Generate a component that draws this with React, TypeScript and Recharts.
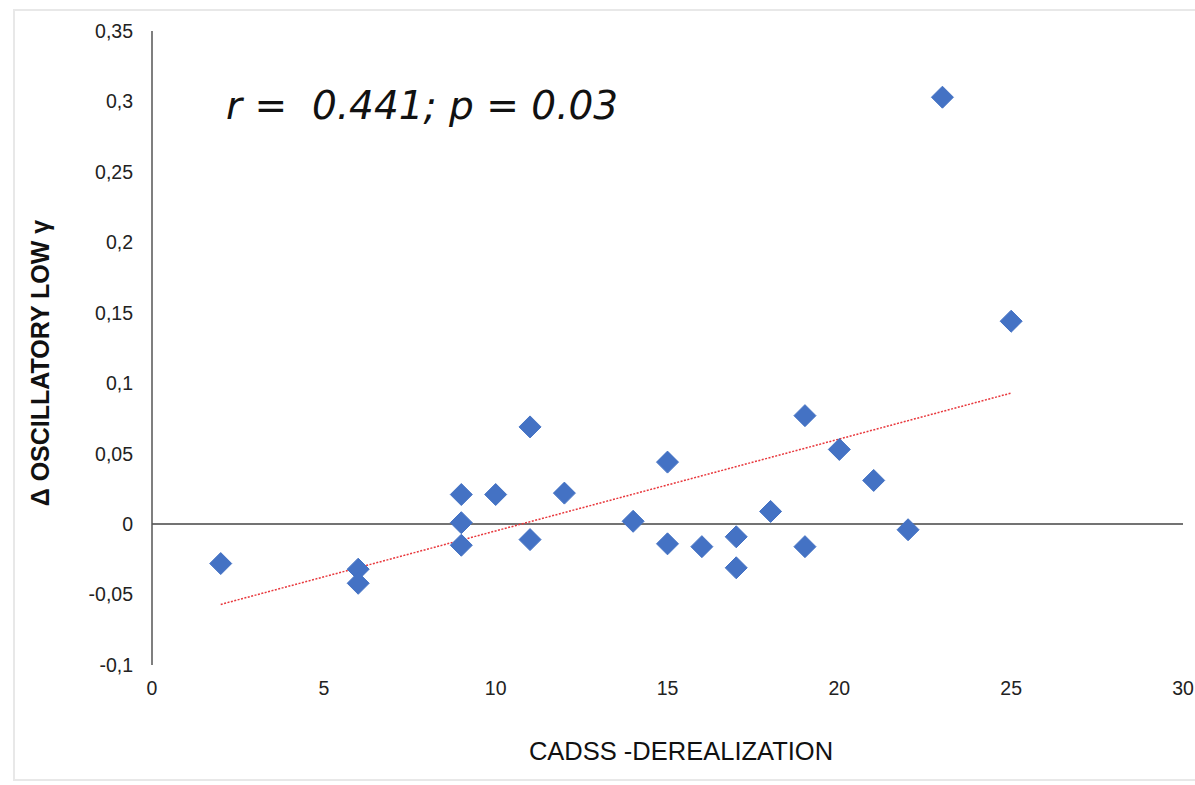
import {
  Label,
  ReferenceLine,
  Scatter,
  ScatterChart,
  XAxis,
  YAxis,
} from "recharts";

// CADSS derealization score per subject
const cadss = [2, 6, 6, 9, 9, 9, 10, 11, 11, 12, 14, 15, 15, 16, 17, 17, 18, 19, 19, 20, 21, 22, 23, 25];
// change in oscillatory low gamma
const deltaLowGamma = [
  -0.028, -0.032, -0.042, 0.021, 0.001, -0.015, 0.021, 0.069, -0.011, 0.022, 0.002, 0.044,
  -0.014, -0.016, -0.009, -0.031, 0.009, 0.077, -0.016, 0.053, 0.031, -0.004, 0.303, 0.144,
];
// linear trendline end points
const trendX = [2, 25];
const trendY = [-0.057, 0.093];

const xTicks = [0, 5, 10, 15, 20, 25, 30];
const yTicks = [-0.1, -0.05, 0, 0.05, 0.1, 0.15, 0.2, 0.25, 0.3, 0.35];

const points = cadss.map((x, i) => ({ x, y: deltaLowGamma[i] }));

const font = "Arial, 'Liberation Sans', Helvetica, sans-serif";

function Diamond(props: any) {
  const { cx, cy } = props;
  const r = 11;
  return (
    <path
      d={`M${cx},${cy - r} L${cx + r},${cy} L${cx},${cy + r} L${cx - r},${cy} Z`}
      fill="#4472c4"
      stroke="#4472c4"
      strokeWidth={1}
      strokeLinejoin="round"
    />
  );
}

export default function App() {
  return (
    <div style={{ position: "absolute", left: 0, top: 0, width: 1195, height: 785, background: "#fff" }}>
      <div
        style={{
          position: "absolute",
          left: 13,
          top: 9,
          width: 1190,
          height: 772,
          border: "2px solid #e8e8e8",
          boxSizing: "border-box",
        }}
      />
      <ScatterChart
        width={1195}
        height={785}
        margin={{ top: 31, right: 12, bottom: 0, left: 0 }}
        style={{ position: "absolute", left: 0, top: 0 }}
      >
        <XAxis
          type="number"
          dataKey="x"
          domain={[0, 30]}
          ticks={xTicks}
          axisLine={false}
          tickLine={false}
          tickSize={6}
          tickMargin={10}
          height={120}
          tick={{ fill: "#222", fontSize: 19.5, fontFamily: font }}
        >
          <Label
            content={() => (
              <text
                x={681}
                y={760}
                textAnchor="middle"
                style={{ fill: "#111", fontSize: 25.5, fontFamily: font }}
              >
                CADSS -DEREALIZATION
              </text>
            )}
          />
        </XAxis>
        <YAxis
          type="number"
          dataKey="y"
          domain={[-0.1, 0.35]}
          ticks={yTicks}
          width={152}
          axisLine={{ stroke: "#555", strokeWidth: 1.5 }}
          tickLine={false}
          tickSize={6}
          tickMargin={13}
          tickFormatter={(v: number) => String(v).replace(".", ",")}
          tick={{ fill: "#222", fontSize: 19.5, fontFamily: font }}
        >
          <Label
            content={() => (
              <text
                x={40}
                y={363}
                transform="rotate(-90, 40, 363)"
                textAnchor="middle"
                dominantBaseline="central"
                style={{ fill: "#111", fontSize: 25, fontWeight: 700, fontFamily: font }}
              >
                Δ OSCILLATORY LOW γ
              </text>
            )}
          />
        </YAxis>
        <ReferenceLine y={0} stroke="#444" strokeWidth={1.5} />
        <ReferenceLine
          segment={[
            { x: trendX[0], y: trendY[0] },
            { x: trendX[1], y: trendY[1] },
          ]}
          stroke="#e8383d"
          strokeWidth={1.5}
          strokeDasharray="2 1.5"
        />
        <Scatter data={points} shape={<Diamond />} isAnimationActive={false} />
      </ScatterChart>
      <div
        style={{
          position: "absolute",
          left: 226,
          top: 80,
          fontFamily: "'DejaVu Sans', sans-serif",
          fontStyle: "italic",
          fontWeight: 400,
          fontSize: 39,
          lineHeight: "52px",
          color: "#111",
          whiteSpace: "pre",
        }}
      >
        {"r =  0.441; p = 0.03"}
      </div>
    </div>
  );
}
